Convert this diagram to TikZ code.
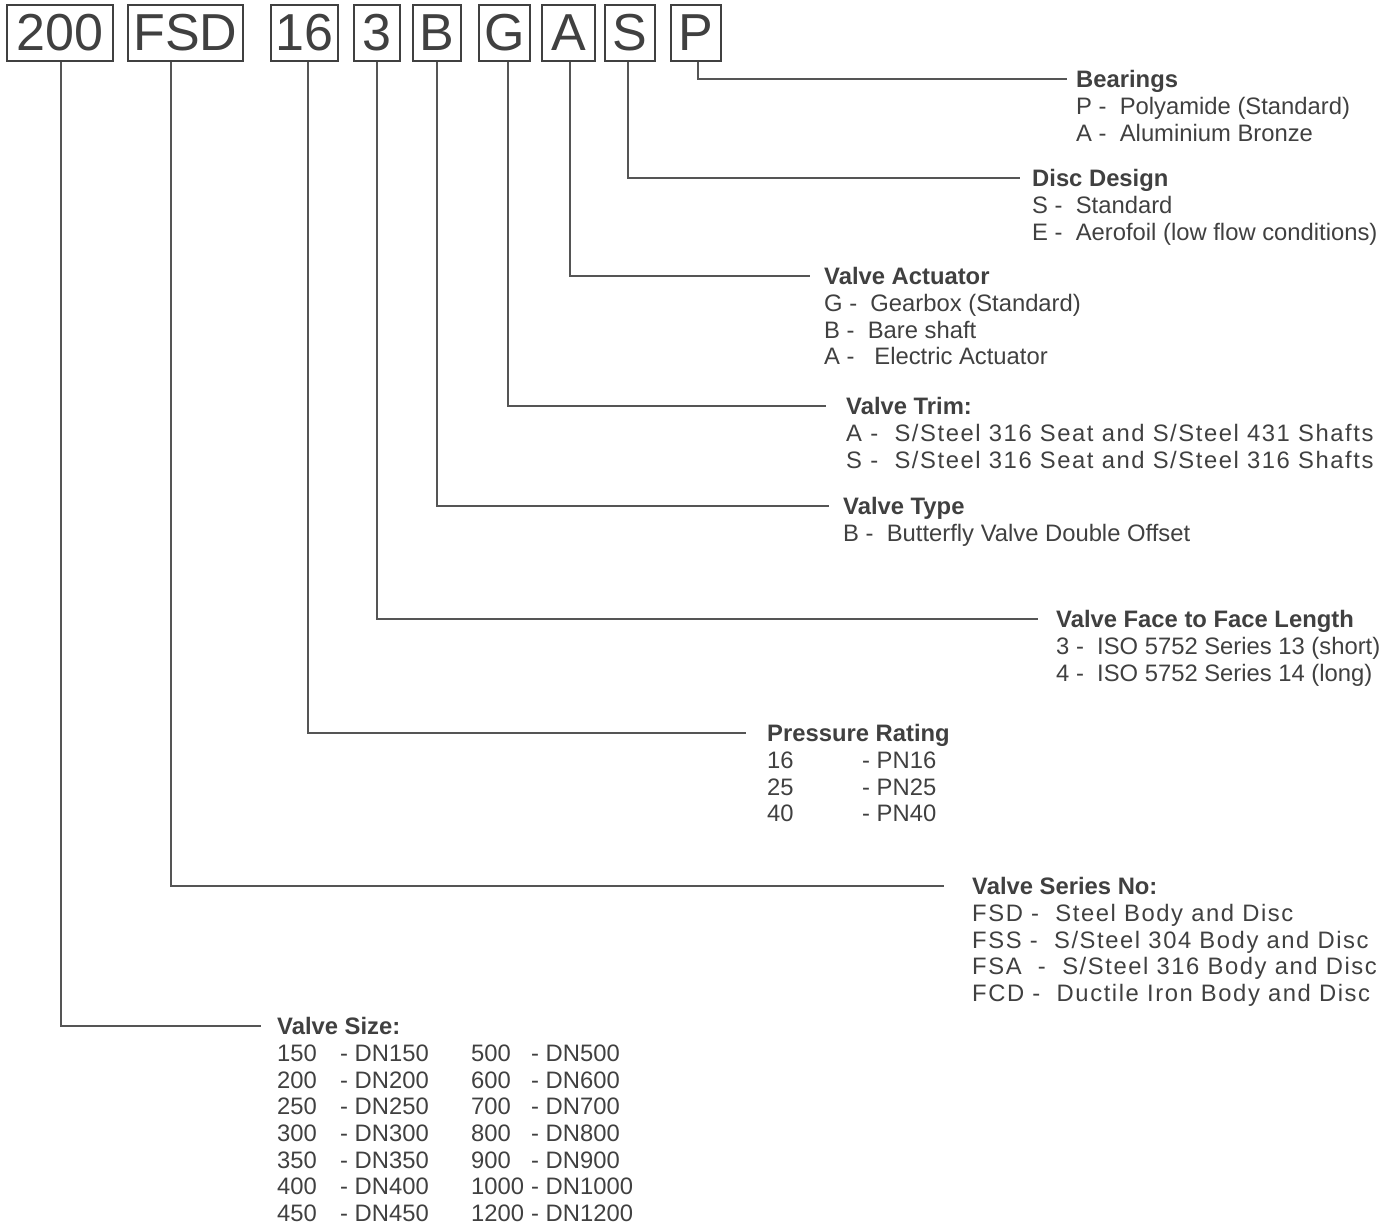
\documentclass[tikz,border=0pt]{standalone}
\usepackage{fontspec}
\setmainfont{Liberation Sans}
\newfontfamily\spacedfont[LetterSpace=6.6]{Liberation Sans}
\usetikzlibrary{positioning}

\definecolor{ink}{HTML}{404040}
\definecolor{wire}{HTML}{555555}

\newcommand\sizerow[2]{\makebox[63pt][l]{#1}\makebox[131pt][l]{- DN#1}\makebox[60pt][l]{#2}- DN#2}
\newcommand\pnrow[1]{\makebox[95pt][l]{#1}- PN#1}
\newcommand\firstline{\rule{0pt}{20pt}}

\tikzset{
  codebox/.style={draw=ink, line width=1.4pt, minimum height=56pt, inner sep=0pt,
    text=ink, font=\fontsize{52}{52}\selectfont},
  heading/.style={anchor=west, inner sep=0pt, text height=17pt, text depth=0pt,
    text=ink, font=\fontsize{23.8}{26.7}\selectfont\bfseries},
  choices/.style={anchor=north west, inner sep=0pt, align=left, text=ink,
    font=\fontsize{23.8}{26.7}\selectfont},
  link/.style={draw=wire, line width=1.3pt},
}

\begin{document}
\begin{tikzpicture}[x=1pt,y=-1pt]
\useasboundingbox (0,0) rectangle (1399,1225);

% code boxes
\foreach \n/\t/\x/\w in {200/200/60/106, FSD/FSD/185.5/115, 16/16/304.5/67, 3/3/377/46,
  B/B/437/48, G/G/504.5/51, A/A/568.5/53, S/S/630/50, P/P/696/50}
  \node[codebox, minimum width=\w pt] (b\n) at (\x,33) {\t};

% headings
\node[heading] (tP)   at (1076,79)  {Bearings};
\node[heading] (tS)   at (1032,178) {Disc Design};
\node[heading] (tA)   at (824,276)  {Valve Actuator};
\node[heading] (tG)   at (846,406)  {Valve Trim:};
\node[heading] (tB)   at (843,506)  {Valve Type};
\node[heading] (t3)   at (1056,619) {Valve Face to Face Length};
\node[heading] (t16)  at (767,733)  {Pressure Rating};
\node[heading] (tFSD) at (972,886)  {Valve Series No:};
\node[heading] (t200) at (277,1026) {Valve Size:};

% option lists (first baseline one line under the heading)
\node[choices] (oP) at ([yshift=-6.7pt]tP.base west)
  {\firstline P - \ Polyamide (Standard)\\A - \ Aluminium Bronze};
\node[choices] (oS) at ([yshift=-6.7pt]tS.base west)
  {\firstline S - \ Standard\\E - \ Aerofoil (low flow conditions)};
\node[choices] (oA) at ([yshift=-6.7pt]tA.base west)
  {\firstline G - \ Gearbox (Standard)\\B - \ Bare shaft\\A - \ \ Electric Actuator};
\node[choices, font=\fontsize{23.8}{26.7}\spacedfont] (oG) at ([yshift=-6.7pt]tG.base west)
  {\firstline A - \ S/Steel 316 Seat and S/Steel 431 Shafts\\S - \ S/Steel 316 Seat and S/Steel 316 Shafts};
\node[choices] (oB) at ([yshift=-6.7pt]tB.base west)
  {\firstline B - \ Butterfly Valve Double Offset};
\node[choices] (o3) at ([yshift=-6.7pt]t3.base west)
  {\firstline 3 - \ ISO 5752 Series 13 (short)\\4 - \ ISO 5752 Series 14 (long)};
\node[choices] (o16) at ([yshift=-6.7pt]t16.base west)
  {\firstline\pnrow{16}\\\pnrow{25}\\\pnrow{40}};
\node[choices, font=\fontsize{23.8}{26.7}\spacedfont] (oFSD) at ([yshift=-6.7pt]tFSD.base west)
  {\firstline FSD - \ Steel Body and Disc\\FSS - \ S/Steel 304 Body and Disc\\FSA \ - \ S/Steel 316 Body and Disc\\FCD - \ Ductile Iron Body and Disc};
\node[choices] (o200) at ([yshift=-6.7pt]t200.base west)
  {\firstline\sizerow{150}{500}\\\sizerow{200}{600}\\\sizerow{250}{700}\\\sizerow{300}{800}\\
   \sizerow{350}{900}\\\sizerow{400}{1000}\\\sizerow{450}{1200}};

% leader lines: box / offset / heading / gap
\foreach \b/\d/\t/\g in {bP/2/tP/9, bS/-2/tS/12, bA/1.5/tA/14, bG/3.5/tG/20, bB/0/tB/14,
  b3/0/t3/18, b16/3.5/t16/21, bFSD/-14.5/tFSD/28, b200/1/t200/16}
  \draw[link] ([xshift=\d pt]\b.south) |- ([xshift=-\g pt]\t.west);
\end{tikzpicture}
\end{document}
